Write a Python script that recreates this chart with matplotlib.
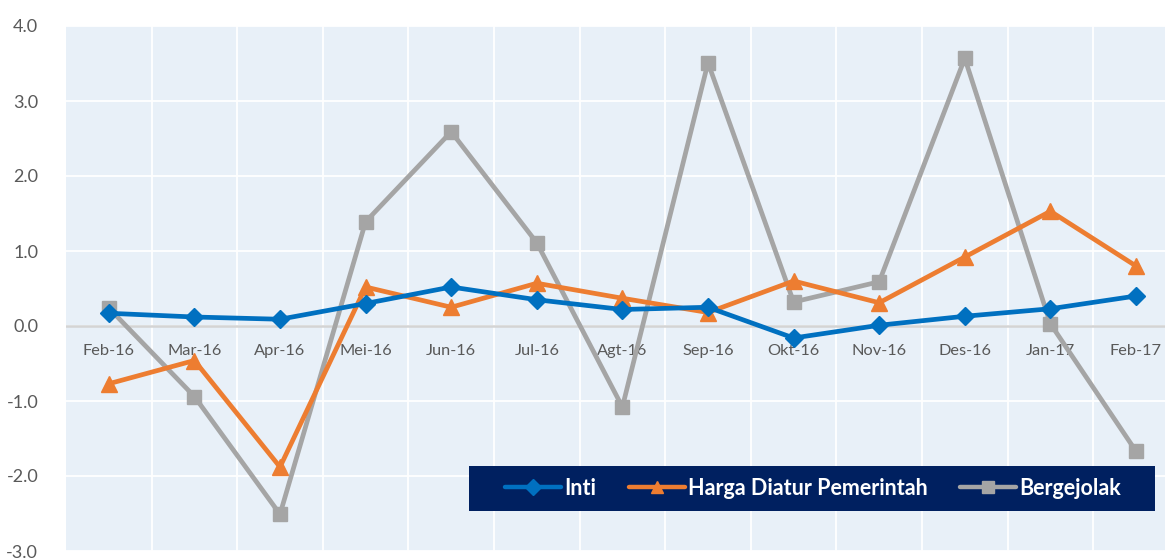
import matplotlib
matplotlib.use("Agg")
import matplotlib.pyplot as plt
from matplotlib.patches import Rectangle
from matplotlib.lines import Line2D

categories = ["Feb-16", "Mar-16", "Apr-16", "Mei-16", "Jun-16", "Jul-16", "Agt-16",
              "Sep-16", "Okt-16", "Nov-16", "Des-16", "Jan-17", "Feb-17"]
inti = [0.17, 0.12, 0.09, 0.30, 0.52, 0.35, 0.22, 0.25, -0.16, 0.01, 0.13, 0.23, 0.40]
harga_diatur = [-0.77, -0.46, -1.88, 0.52, 0.25, 0.57, 0.37, 0.18, 0.60, 0.31, 0.92, 1.53, 0.80]
bergejolak = [0.24, -0.94, -2.51, 1.39, 2.59, 1.11, -1.08, 3.51, 0.32, 0.59, 3.57, 0.03, -1.67]
yticks = [-3.0, -2.0, -1.0, 0.0, 1.0, 2.0, 3.0, 4.0]
series_names = ["Inti", "Harga Diatur Pemerintah", "Bergejolak"]

W, H = 1165, 558
fig = plt.figure(figsize=(W / 100, H / 100), dpi=100)
fig.patch.set_facecolor("white")

left, right, top, bottom = 66, 66 + 13 * 85.6, 26, 551
ax = fig.add_axes([left / W, 1 - bottom / H, (right - left) / W, (bottom - top) / H])
ax.set_facecolor("#E8F0F8")
for s in ax.spines.values():
    s.set_visible(False)

x = list(range(len(categories)))
ax.set_xlim(-0.5, len(categories) - 0.5)
ax.set_ylim(-3.0, 4.0)

ax.set_yticks(yticks)
ax.set_yticklabels([f"{v:.1f}" for v in yticks], fontsize=13, color="#595959", family="Lato")
ax.set_xticks([i + 0.5 for i in x[:-1]], minor=True)
ax.grid(True, which="major", axis="y", color="white", lw=1.3)
ax.grid(True, which="minor", axis="x", color="white", lw=1.3)
ax.tick_params(axis="y", length=0, pad=20)
ax.tick_params(axis="x", which="both", length=0)
ax.set_xticks(x)
ax.set_xticklabels([])
ax.set_axisbelow(True)
ax.axhline(0, color="#D4D4D4", lw=1.8, zorder=1)

for i, c in enumerate(categories):
    ax.annotate(c, (i, 0), xytext=(0, -25), textcoords="offset pixels",
                ha="center", va="center", fontsize=11.8, color="#595959", family="Lato", zorder=2)

colors = ["#0070C0", "#ED7D31", "#A5A5A5"]
markers = ["D", "^", "s"]
sizes = [9, 11, 10]
lw = 3.4
for vals, name, col, mk, ms, z in zip([inti, harga_diatur, bergejolak], series_names,
                                      colors, markers, sizes, [5, 4, 3]):
    ax.plot(x, vals, color=col, lw=lw, marker=mk, ms=ms, zorder=z, label=name)

# legend box
lx0, lx1, ly0, ly1 = 469, 1155, 466, 511
fig.patches.append(Rectangle((lx0 / W, 1 - ly1 / H), (lx1 - lx0) / W, (ly1 - ly0) / H,
                             transform=fig.transFigure, facecolor="#002060",
                             edgecolor="none", zorder=10))
handles = [Line2D([], [], color=c, lw=3.2, marker=m, ms=s * 0.85, solid_capstyle="round")
           for c, m, s in zip(colors, markers, sizes)]
leg = fig.legend(handles, series_names, loc="center",
                 bbox_to_anchor=((lx0 + lx1) / 2 / W + 0.001, 1 - (ly0 + ly1) / 2 / H),
                 ncol=3, frameon=False, handlelength=2.6, handletextpad=0.15,
                 columnspacing=1.5, prop={"family": "Lato", "weight": "bold", "size": 15.5})
leg.set_zorder(11)
for t in leg.get_texts():
    t.set_color("white")

fig.savefig("out.png", dpi=100)
